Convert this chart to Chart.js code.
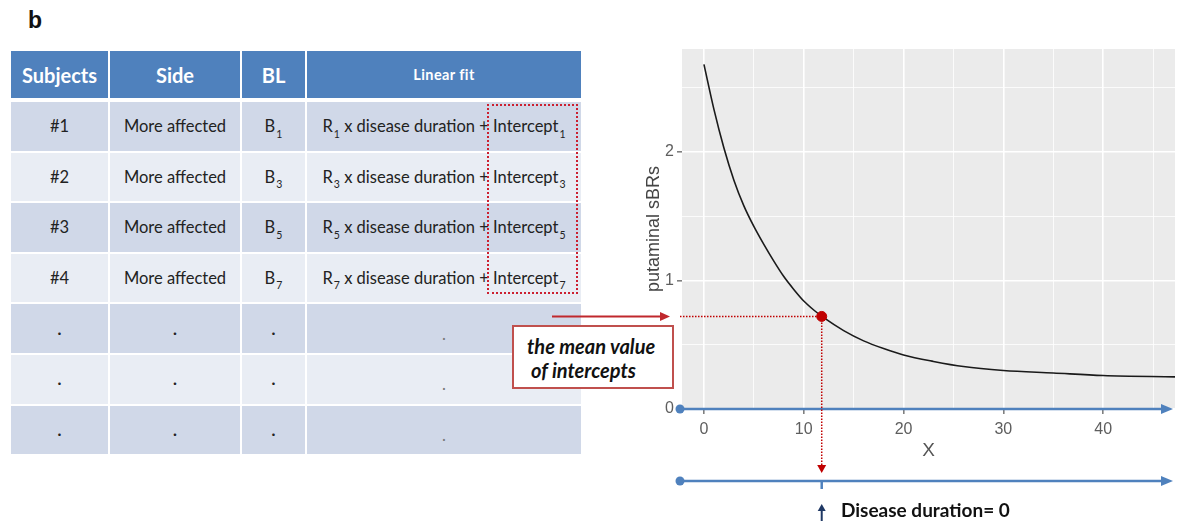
<!DOCTYPE html>
<html>
<head>
<meta charset="utf-8">
<script src="https://cdn.jsdelivr.net/npm/chart.js@4.4.0/dist/chart.umd.min.js"></script>
<style>
  html, body { margin: 0; padding: 0; background: #fff; }
  body { width: 1182px; height: 525px; position: relative; overflow: hidden; font-family: Lato, "Open Sans", sans-serif; }
  #panel-label { position: absolute; left: 28px; top: 7px; font: bold 23px "Liberation Sans", Arial, sans-serif; color: #111; }
  .cell { position: absolute; display: flex; align-items: center; justify-content: center; box-sizing: border-box;
          color: #222; font-size: 16.5px; white-space: nowrap; }
  .head { background: #4f81bd; color: #fff; font-weight: bold; font-size: 20px; }
  .head.small { font-size: 14.5px; letter-spacing: 0.4px; }
  .dark { background: #d0d8e8; }
  .light { background: #e9edf4; }
  .cell sub { font-size: 10.5px; position: relative; top: 1px; vertical-align: sub; margin-left: 1px; line-height: 0; }
  .dot { font-weight: bold; }
  .dot.low { padding-top: 10px; color: #777; font-weight: normal; }
  #icpt-box { position: absolute; left: 487px; top: 104px; width: 91px; height: 190px; border: 2px dotted #cc2030; box-sizing: border-box; z-index: 2; }
  #chart-wrap { position: absolute; left: 0; top: 0; width: 1182px; height: 525px; z-index: 3; }
  #mean-box { position: absolute; left: 512px; top: 325px; width: 162px; height: 64px; box-sizing: border-box; border: 2px solid #c0504d;
              background: #fff; z-index: 4; padding: 7px 0 0 13px; font-weight: bold; font-style: italic; font-size: 20px; line-height: 24px; color: #111; }
  #mean-box span { display: block; }
  #dd-label { position: absolute; left: 841px; top: 499px; font-weight: bold; font-size: 19px; line-height: 22px; color: #111; z-index: 4; }
</style>
</head>
<body>
<div id="panel-label">b</div>
<div id="table"></div>
<div id="icpt-box"></div>
<div id="chart-wrap"><canvas id="sbrChart" width="1182" height="525"></canvas></div>
<div id="mean-box"><span>the mean value</span><span style="padding-left:4px">of intercepts</span></div>
<div id="dd-label">Disease duration= 0</div>

<script>
// table content
const headers = ['Subjects', 'Side', 'BL', 'Linear fit'];
const subjects = ['#1', '#2', '#3', '#4', '.', '.', '.'];
const sides = ['More affected', 'More affected', 'More affected', 'More affected', '.', '.', '.'];
const subIdx = [1, 3, 5, 7];

// curve: disease duration (x) vs putaminal sBRs (y)
const durationX = [0, 1, 2, 3, 4, 5, 6, 7, 8, 9, 10, 11, 12, 14, 16, 18, 20, 23, 26, 30, 35, 40, 47.2];
const sbrY = [2.68, 2.33, 2.03, 1.78, 1.58, 1.42, 1.28, 1.15, 1.03, 0.93, 0.84, 0.77, 0.71, 0.61, 0.53, 0.47, 0.42, 0.37, 0.33, 0.30, 0.28, 0.26, 0.25];

// mean value of intercepts
const meanX = [11.8];
const meanY = [0.72];

const xTicks = [0, 10, 20, 30, 40];
const yTicks = [0, 1, 2];

const BLUE = '#4f81bd';
const RED = '#c00000';

document.addEventListener('DOMContentLoaded', function() {
    buildTable();
    initChart();
});

function buildTable() {
    const table = document.getElementById('table');
    const cols = [[11, 108], [110, 240], [242, 305], [307, 581]];

    function addCell(col, top, height, cls, html) {
        const d = document.createElement('div');
        d.className = 'cell ' + cls;
        d.style.left = cols[col][0] + 'px';
        d.style.width = (cols[col][1] - cols[col][0]) + 'px';
        d.style.top = top + 'px';
        d.style.height = height + 'px';
        d.innerHTML = '<span>' + html + '</span>';
        table.appendChild(d);
    }

    headers.forEach((h, i) => addCell(i, 51, 47, 'head' + (i === 3 ? ' small' : ''), h));

    subjects.forEach((s, r) => {
        const top = 102 + r * 50.6;
        const shade = r % 2 === 0 ? 'dark' : 'light';
        if (r < subIdx.length) {
            const k = subIdx[r];
            addCell(0, top, 48.5, shade, s);
            addCell(1, top, 48.5, shade, sides[r]);
            addCell(2, top, 48.5, shade, 'B<sub>' + k + '</sub>');
            addCell(3, top, 48.5, shade, 'R<sub>' + k + '</sub> x disease duration + Intercept<sub>' + k + '</sub>');
        } else {
            addCell(0, top, 48.5, shade + ' dot', s);
            addCell(1, top, 48.5, shade + ' dot', sides[r]);
            addCell(2, top, 48.5, shade + ' dot', '.');
            addCell(3, top, 48.5, shade + ' dot low', '.');
        }
    });
}

function drawBlueAxis(ctx, x0, x1, y) {
    ctx.save();
    ctx.strokeStyle = BLUE;
    ctx.fillStyle = BLUE;
    ctx.lineWidth = 2.5;
    ctx.beginPath();
    ctx.moveTo(x0, y);
    ctx.lineTo(x1 - 8, y);
    ctx.stroke();
    ctx.beginPath();
    ctx.arc(x0, y, 4.5, 0, Math.PI * 2);
    ctx.fill();
    ctx.beginPath();
    ctx.moveTo(x1, y);
    ctx.lineTo(x1 - 12, y - 5);
    ctx.lineTo(x1 - 12, y + 5);
    ctx.closePath();
    ctx.fill();
    ctx.restore();
}

const overlayPlugin = {
    id: 'overlay',
    beforeDraw(chart) {
        const { ctx, chartArea: a } = chart;
        ctx.save();
        ctx.fillStyle = '#ebebeb';
        ctx.fillRect(a.left, a.top, a.right - a.left, a.bottom - a.top);
        ctx.restore();
    },
    beforeDatasetsDraw(chart) {
        const { ctx, chartArea: a, scales: { x, y } } = chart;
        const px = x.getPixelForValue(meanX[0]);
        const py = y.getPixelForValue(meanY[0]);
        const y0 = y.getPixelForValue(0);
        const y2 = y0 + 72;

        // blue axes
        drawBlueAxis(ctx, a.left - 2, a.right - 2, y0);
        drawBlueAxis(ctx, a.left - 2, a.right - 2, y2);

        // tick on the lower axis
        ctx.save();
        ctx.strokeStyle = BLUE;
        ctx.lineWidth = 2.5;
        ctx.beginPath();
        ctx.moveTo(px, y2);
        ctx.lineTo(px, y2 + 8);
        ctx.stroke();
        ctx.restore();

        // dotted guides
        ctx.save();
        ctx.strokeStyle = RED;
        ctx.lineWidth = 1.5;
        ctx.setLineDash([1.5, 1.5]);
        ctx.beginPath();
        ctx.moveTo(a.left - 2, py);
        ctx.lineTo(px, py);
        ctx.moveTo(px, py);
        ctx.lineTo(px, y2 - 14);
        ctx.stroke();
        ctx.setLineDash([]);
        ctx.fillStyle = RED;
        ctx.beginPath();
        ctx.moveTo(px, y2 - 8);
        ctx.lineTo(px - 4.5, y2 - 16);
        ctx.lineTo(px + 4.5, y2 - 16);
        ctx.closePath();
        ctx.fill();

        // solid red arrow from the table
        ctx.strokeStyle = '#c0282d';
        ctx.fillStyle = '#c0282d';
        ctx.lineWidth = 2;
        ctx.beginPath();
        ctx.moveTo(a.left - 130, py);
        ctx.lineTo(a.left - 20, py);
        ctx.stroke();
        ctx.beginPath();
        ctx.moveTo(a.left - 12, py);
        ctx.lineTo(a.left - 22, py - 4.5);
        ctx.lineTo(a.left - 22, py + 4.5);
        ctx.closePath();
        ctx.fill();

        // navy arrow under the lower axis
        ctx.strokeStyle = '#1f3864';
        ctx.fillStyle = '#1f3864';
        ctx.lineWidth = 2;
        ctx.beginPath();
        ctx.moveTo(px, y2 + 40);
        ctx.lineTo(px, y2 + 28);
        ctx.stroke();
        ctx.beginPath();
        ctx.moveTo(px, y2 + 23);
        ctx.lineTo(px - 4, y2 + 30);
        ctx.lineTo(px + 4, y2 + 30);
        ctx.closePath();
        ctx.fill();
        ctx.restore();
    }
};

function initChart() {
    const ctx = document.getElementById('sbrChart');
    const isMajor = (c, ticks) => c.tick && ticks.includes(c.tick.value);

    new Chart(ctx, {
        type: 'scatter',
        data: {
            datasets: [{
                data: meanX.map((v, i) => ({ x: v, y: meanY[i] })),
                backgroundColor: RED,
                borderColor: RED,
                pointRadius: 5,
                order: 0
            }, {
                data: durationX.map((v, i) => ({ x: v, y: sbrY[i] })),
                showLine: true,
                borderColor: '#1a1a1a',
                borderWidth: 1.6,
                pointRadius: 0,
                tension: 0.4,
                cubicInterpolationMode: 'monotone',
                order: 1
            }]
        },
        options: {
            responsive: false,
            animation: false,
            layout: { padding: { left: 637, right: 7, top: 49, bottom: 56 } },
            plugins: {
                legend: { display: false },
                tooltip: { enabled: false }
            },
            scales: {
                x: {
                    type: 'linear',
                    min: -2.2,
                    max: 47.2,
                    afterFit: s => { s.height = 60; },
                    border: { display: false },
                    grid: {
                        color: '#ffffff',
                        lineWidth: c => isMajor(c, xTicks) ? 1.6 : 0.8,
                        tickLength: 5,
                        tickColor: c => isMajor(c, xTicks) ? '#7f7f7f' : 'rgba(0,0,0,0)'
                    },
                    ticks: {
                        stepSize: 5,
                        includeBounds: false,
                        padding: 6,
                        color: '#5e5e5e',
                        font: { family: '"Liberation Sans", Arial, sans-serif', size: 16 },
                        callback: v => xTicks.includes(v) ? String(v) : ''
                    },
                    title: {
                        display: true,
                        text: 'X',
                        color: '#555',
                        padding: { top: 0, bottom: 7 },
                        font: { family: '"Liberation Sans", Arial, sans-serif', size: 19 }
                    }
                },
                y: {
                    type: 'linear',
                    min: 0,
                    max: 2.8,
                    afterFit: s => { s.width = 45; },
                    border: { display: false },
                    grid: {
                        color: '#ffffff',
                        lineWidth: c => isMajor(c, yTicks) ? 1.6 : 0.8,
                        tickLength: 5,
                        tickColor: c => isMajor(c, yTicks) ? '#7f7f7f' : 'rgba(0,0,0,0)'
                    },
                    ticks: {
                        stepSize: 0.5,
                        includeBounds: false,
                        padding: 3,
                        color: '#5e5e5e',
                        font: { family: '"Liberation Sans", Arial, sans-serif', size: 16 },
                        callback: v => yTicks.includes(v) ? String(v) : ''
                    },
                    title: {
                        display: true,
                        text: 'putaminal sBRs',
                        color: '#444',
                        padding: { top: 6, bottom: 0 },
                        font: { family: '"Liberation Sans", Arial, sans-serif', size: 18 }
                    }
                }
            }
        },
        plugins: [overlayPlugin]
    });
}
</script>
</body>
</html>
